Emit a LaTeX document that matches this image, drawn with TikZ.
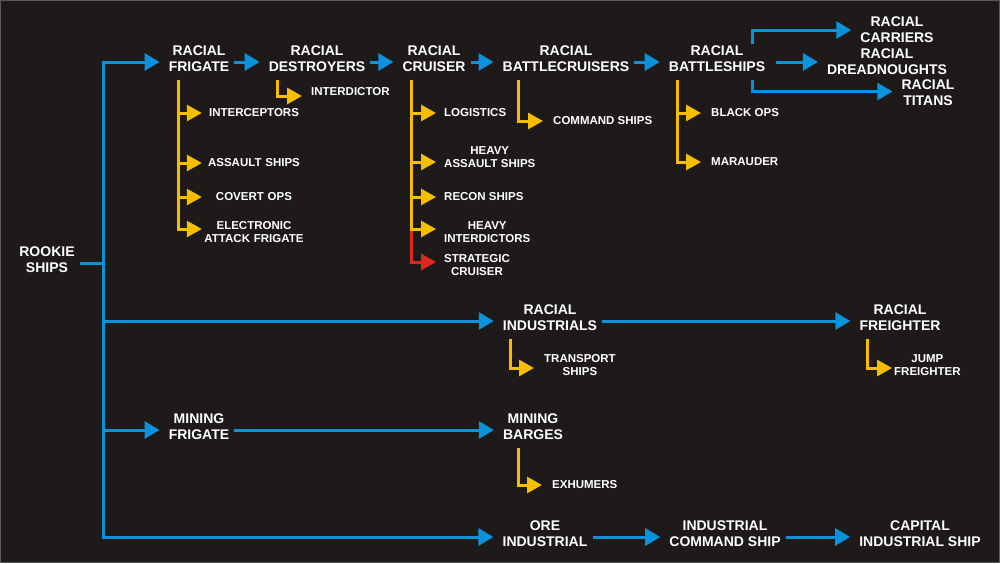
\documentclass[tikz,border=0pt]{standalone}
\usepackage{fontspec}
\setmainfont{Liberation Sans}
\usetikzlibrary{arrows.meta}
\definecolor{bgColor}{HTML}{1E1A19}
\definecolor{frameColor}{HTML}{5A5756}
\definecolor{blueLine}{HTML}{0A93DA}
\definecolor{yellowLine}{HTML}{F5BF00}
\definecolor{redLine}{HTML}{E0271F}

\begin{document}
\begin{tikzpicture}[x = 1pt, y = -1pt, font = \bfseries]
	\tikzstyle{bigStyle} = [text = white, align = center, font = \bfseries\fontsize{14}{16}\selectfont, inner xsep = 5pt, inner ysep = 1pt, text depth = 7pt]
	\tikzstyle{topStyle} = [text = white, align = center, font = \bfseries\fontsize{14}{16}\selectfont, inner xsep = 5pt, inner ysep = 1pt]
	\tikzstyle{subStyle} = [text = white, align = center, font = \bfseries\fontsize{11.5}{13}\selectfont, inner xsep = 9pt, inner ysep = 1pt, anchor = west]
	\tikzstyle{frigSubStyle} = [subStyle, anchor = center, text width = 104pt, inner xsep = 0pt]
	\tikzstyle{blueLineStyle} = [draw = blueLine, line width = 3pt]
	\tikzstyle{blueArrowStyle} = [blueLineStyle, -{Triangle[length = 15pt, width = 17pt]}, shorten > = 4pt]
	\tikzstyle{yellowArrowStyle} = [draw = yellowLine, line width = 3pt, -{Triangle[length = 15pt, width = 16pt]}]
	\tikzstyle{redArrowStyle} = [draw = redLine, line width = 3pt, -{Triangle[length = 15pt, width = 16pt]}]
	\useasboundingbox (0, 0) rectangle (1000, 563);
	\fill[bgColor] (0, 0) rectangle (1000, 563);
	\draw[frameColor, line width = 1pt] (0.5, 0.5) rectangle (999.5, 562.5);
	\node[bigStyle] (rook) at (47, 263) {ROOKIE\\SHIPS};
	\node[bigStyle] (frig) at (199, 62) {RACIAL\\FRIGATE};
	\node[bigStyle] (dest) at (317, 62) {RACIAL\\DESTROYERS};
	\node[bigStyle] (cru) at (434, 62) {RACIAL\\CRUISER};
	\node[bigStyle] (bcr) at (566, 62) {RACIAL\\BATTLECRUISERS};
	\node[bigStyle] (bsh) at (717, 62) {RACIAL\\BATTLESHIPS};
	\node[topStyle] (carr) at (897, 30) {RACIAL\\CARRIERS};
	\node[topStyle] (dread) at (887, 62) {RACIAL\\DREADNOUGHTS};
	\node[topStyle] (titan) at (928, 93) {RACIAL\\TITANS};
	\node[bigStyle] (ind) at (550, 321) {RACIAL\\INDUSTRIALS};
	\node[bigStyle] (frt) at (900, 321) {RACIAL\\FREIGHTER};
	\node[bigStyle] (mfrig) at (199, 430) {MINING\\FRIGATE};
	\node[bigStyle] (barg) at (533, 430) {MINING\\BARGES};
	\node[bigStyle] (ore) at (545, 537) {ORE\\INDUSTRIAL};
	\node[bigStyle] (icmd) at (725, 537) {INDUSTRIAL\\COMMAND SHIP};
	\node[bigStyle] (cap) at (920, 537) {CAPITAL\\INDUSTRIAL SHIP};
	\node[frigSubStyle] (icp) at (254, 113) {INTERCEPTORS};
	\node[frigSubStyle] (asl) at (254, 163) {ASSAULT SHIPS};
	\node[frigSubStyle] (cov) at (254, 197) {COVERT OPS};
	\node[frigSubStyle] (ecm) at (254, 232) {ELECTRONIC\\ATTACK FRIGATE};
	\node[subStyle] (intd) at (302, 92) {INTERDICTOR};
	\node[subStyle, inner xsep = 8pt] (log) at (436, 113) {LOGISTICS};
	\node[subStyle, inner xsep = 8pt] (hvas) at (436, 157) {HEAVY\\ASSAULT SHIPS};
	\node[subStyle, inner xsep = 8pt] (rec) at (436, 197) {RECON SHIPS};
	\node[subStyle, inner xsep = 8pt] (hint) at (436, 232) {HEAVY\\INTERDICTORS};
	\node[subStyle, inner xsep = 8pt] (strat) at (436, 265.5) {STRATEGIC\\CRUISER};
	\node[subStyle, inner xsep = 10pt] (cmd) at (543, 121) {COMMAND SHIPS};
	\node[subStyle, inner xsep = 10pt] (bops) at (701, 113) {BLACK OPS};
	\node[subStyle, inner xsep = 10pt] (mar) at (701, 162) {MARAUDER};
	\node[subStyle, inner xsep = 10pt] (trn) at (534, 365.5) {TRANSPORT\\SHIPS};
	\node[subStyle, inner xsep = 2pt] (jump) at (892, 365.5) {JUMP\\FREIGHTER};
	\node[subStyle, inner xsep = 10pt] (exh) at (542, 485) {EXHUMERS};
	\coordinate (trunk) at (103, 263);
	\draw[blueLineStyle] (rook.east) -- (trunk);
	\draw[blueArrowStyle] (trunk) |- (frig.west);
	\draw[blueArrowStyle] (trunk) |- (ind.west);
	\draw[blueArrowStyle] (trunk) |- (mfrig.west);
	\draw[blueArrowStyle] (trunk) |- (ore.west);
	\draw[blueArrowStyle] (frig.east) -- (dest.west);
	\draw[blueArrowStyle] (dest.east) -- (cru.west);
	\draw[blueArrowStyle] (cru.east) -- (bcr.west);
	\draw[blueArrowStyle] (bcr.east) -- (bsh.west);
	\draw[blueArrowStyle] ([xshift = 35pt]bsh.north) |- (carr.west);
	\draw[blueArrowStyle, shorten < = 6pt] (bsh.east) -- (dread.west);
	\draw[blueArrowStyle] ([xshift = 35pt]bsh.south) |- ([yshift = 1.5pt]titan.west);
	\draw[blueArrowStyle] (ind.east) -- (frt.west);
	\draw[blueArrowStyle] (mfrig.east) -- (barg.west);
	\draw[blueArrowStyle] (ore.east) -- (icmd.west);
	\draw[blueArrowStyle] (icmd.east) -- (cap.west);
	\draw[yellowArrowStyle] ([xshift = -21pt]frig.south) |- (icp.west);
	\draw[yellowArrowStyle] ([xshift = -21pt]frig.south) |- (asl.west);
	\draw[yellowArrowStyle] ([xshift = -21pt]frig.south) |- (cov.west);
	\draw[yellowArrowStyle] ([xshift = -21pt]frig.south) |- ([yshift = 3pt]ecm.west);
	\draw[yellowArrowStyle] ([xshift = -40pt]dest.south) |- ([yshift = -4pt]intd.west);
	\draw[redArrowStyle] ([xshift = -23pt]cru.south) |- ([yshift = 3.5pt]strat.west);
	\draw[yellowArrowStyle] ([xshift = -23pt]cru.south) |- (log.west);
	\draw[yellowArrowStyle] ([xshift = -23pt]cru.south) |- ([yshift = -5pt]hvas.west);
	\draw[yellowArrowStyle] ([xshift = -23pt]cru.south) |- (rec.west);
	\draw[yellowArrowStyle] ([xshift = -23pt]cru.south) |- ([yshift = 3pt]hint.west);
	\draw[yellowArrowStyle] ([xshift = -48pt]bcr.south) |- (cmd.west);
	\draw[yellowArrowStyle] ([xshift = -40pt]bsh.south) |- (bops.west);
	\draw[yellowArrowStyle] ([xshift = -40pt]bsh.south) |- (mar.west);
	\draw[yellowArrowStyle] ([xshift = -40pt]ind.south) |- ([yshift = -2.5pt]trn.west);
	\draw[yellowArrowStyle] ([xshift = -33pt]frt.south) |- ([yshift = -2.5pt]jump.west);
	\draw[yellowArrowStyle] ([xshift = -15pt]barg.south) |- (exh.west);
\end{tikzpicture}
\end{document}
